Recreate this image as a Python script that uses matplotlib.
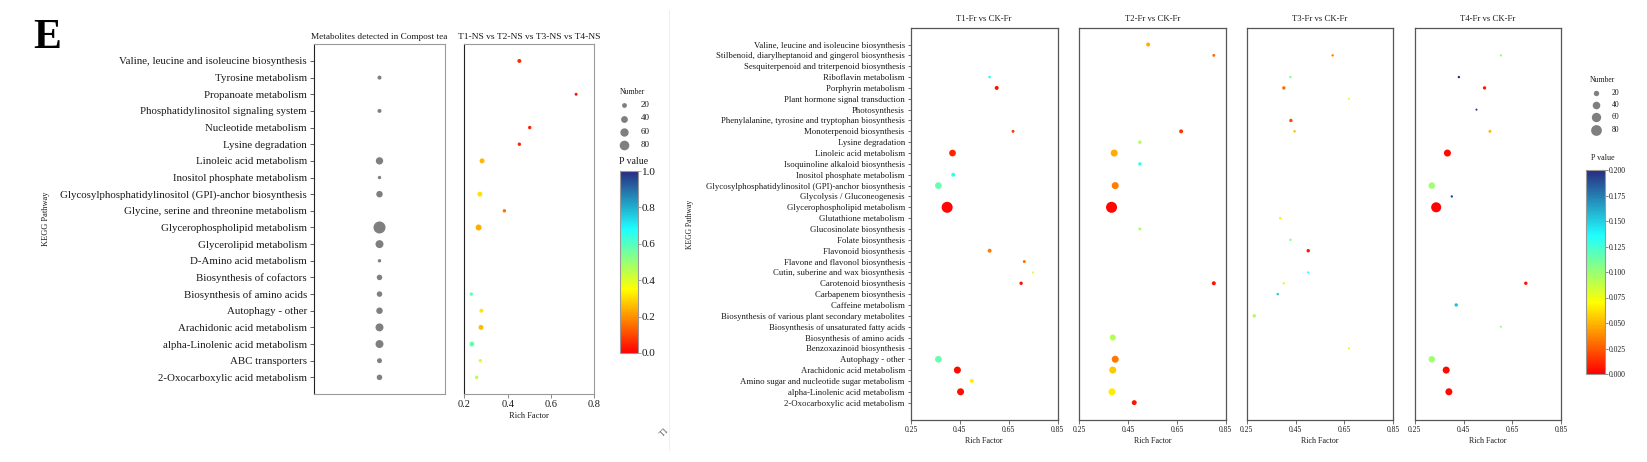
import numpy as np
import matplotlib.pyplot as plt
from matplotlib.colors import LinearSegmentedColormap, Normalize
from matplotlib.cm import ScalarMappable
from matplotlib.lines import Line2D

plt.rcParams['font.family'] = ['Liberation Serif', 'DejaVu Serif']

nan = np.nan

# ---------------- left figure: compost tea ----------------
left_paths = ["Valine, leucine and isoleucine biosynthesis", "Tyrosine metabolism",
              "Propanoate metabolism", "Phosphatidylinositol signaling system",
              "Nucleotide metabolism", "Lysine degradation", "Linoleic acid metabolism",
              "Inositol phosphate metabolism",
              "Glycosylphosphatidylinositol (GPI)-anchor biosynthesis",
              "Glycine, serine and threonine metabolism", "Glycerophospholipid metabolism",
              "Glycerolipid metabolism", "D-Amino acid metabolism", "Biosynthesis of cofactors",
              "Biosynthesis of amino acids", "Autophagy - other", "Arachidonic acid metabolism",
              "alpha-Linolenic acid metabolism", "ABC transporters",
              "2-Oxocarboxylic acid metabolism"]
compost_num = [nan, 11, nan, 11, nan, nan, 37, 8, 29, nan, 100, 44, 8, 21, 21, 29, 44, 44, 17, 21]

ns_rich = [0.454, nan, 0.716, nan, 0.502, 0.454, 0.282, nan, 0.272, 0.385,
           0.266, nan, nan, nan, 0.232, 0.279, 0.277, 0.235, 0.274, 0.257]
ns_p = [0.06, nan, 0.02, nan, 0.04, 0.05, 0.25, nan, 0.31, 0.16,
        0.24, nan, nan, nan, 0.58, 0.32, 0.26, 0.58, 0.40, 0.46]
ns_num = [11, nan, 6, nan, 8, 8, 17, nan, 17, 8,
          25, nan, nan, nan, 8, 11, 17, 17, 8, 8]

left_xticks = [0.2, 0.4, 0.6, 0.8]
left_cb_ticks = [0.0, 0.2, 0.4, 0.6, 0.8, 1.0]
legend_nums = [20, 40, 60, 80]

# ---------------- right figure: fruit ----------------
right_paths = ["Valine, leucine and isoleucine biosynthesis",
               "Stilbenoid, diarylheptanoid and gingerol biosynthesis",
               "Sesquiterpenoid and triterpenoid biosynthesis", "Riboflavin metabolism",
               "Porphyrin metabolism", "Plant hormone signal transduction", "Photosynthesis",
               "Phenylalanine, tyrosine and tryptophan biosynthesis", "Monoterpenoid biosynthesis",
               "Lysine degradation", "Linoleic acid metabolism",
               "Isoquinoline alkaloid biosynthesis", "Inositol phosphate metabolism",
               "Glycosylphosphatidylinositol (GPI)-anchor biosynthesis",
               "Glycolysis / Gluconeogenesis", "Glycerophospholipid metabolism",
               "Glutathione metabolism", "Glucosinolate biosynthesis", "Folate biosynthesis",
               "Flavonoid biosynthesis", "Flavone and flavonol biosynthesis",
               "Cutin, suberine and wax biosynthesis", "Carotenoid biosynthesis",
               "Carbapenem biosynthesis", "Caffeine metabolism",
               "Biosynthesis of various plant secondary metabolites",
               "Biosynthesis of unsaturated fatty acids", "Biosynthesis of amino acids",
               "Benzoxazinoid biosynthesis", "Autophagy - other", "Arachidonic acid metabolism",
               "Amino sugar and nucleotide sugar metabolism", "alpha-Linolenic acid metabolism",
               "2-Oxocarboxylic acid metabolism"]

t1_paths = ["Riboflavin metabolism", "Porphyrin metabolism", "Monoterpenoid biosynthesis",
            "Linoleic acid metabolism", "Inositol phosphate metabolism",
            "Glycosylphosphatidylinositol (GPI)-anchor biosynthesis",
            "Glycerophospholipid metabolism", "Flavonoid biosynthesis",
            "Flavone and flavonol biosynthesis", "Cutin, suberine and wax biosynthesis",
            "Carotenoid biosynthesis", "Autophagy - other", "Arachidonic acid metabolism",
            "Amino sugar and nucleotide sugar metabolism", "alpha-Linolenic acid metabolism"]
t1_rich = [0.572, 0.601, 0.668, 0.420, 0.423, 0.362, 0.398, 0.572, 0.714, 0.750,
           0.701, 0.362, 0.440, 0.499, 0.453]
t1_p = [0.132, 0.005, 0.015, 0.010, 0.132, 0.115, 0.002, 0.035, 0.030, 0.082,
        0.005, 0.115, 0.003, 0.066, 0.004]
t1_num = [5, 11, 6, 31, 11, 31, 84, 11, 6, 3, 8, 31, 34, 11, 34]

t2_paths = ["Valine, leucine and isoleucine biosynthesis",
            "Stilbenoid, diarylheptanoid and gingerol biosynthesis",
            "Monoterpenoid biosynthesis", "Lysine degradation", "Linoleic acid metabolism",
            "Isoquinoline alkaloid biosynthesis",
            "Glycosylphosphatidylinositol (GPI)-anchor biosynthesis",
            "Glycerophospholipid metabolism", "Glucosinolate biosynthesis",
            "Carotenoid biosynthesis", "Biosynthesis of amino acids", "Autophagy - other",
            "Arachidonic acid metabolism", "alpha-Linolenic acid metabolism",
            "2-Oxocarboxylic acid metabolism"]
t2_rich = [0.532, 0.801, 0.667, 0.498, 0.393, 0.498, 0.397, 0.382, 0.498, 0.801,
           0.387, 0.397, 0.387, 0.384, 0.475]
t2_p = [0.048, 0.030, 0.015, 0.095, 0.048, 0.132, 0.035, 0.002, 0.095, 0.005,
        0.092, 0.033, 0.055, 0.065, 0.006]
t2_num = [11, 6, 11, 8, 34, 8, 34, 84, 6, 11, 25, 34, 34, 34, 17]

t3_paths = ["Stilbenoid, diarylheptanoid and gingerol biosynthesis", "Riboflavin metabolism",
            "Porphyrin metabolism", "Plant hormone signal transduction",
            "Phenylalanine, tyrosine and tryptophan biosynthesis", "Monoterpenoid biosynthesis",
            "Glutathione metabolism", "Folate biosynthesis", "Flavonoid biosynthesis",
            "Cutin, suberine and wax biosynthesis", "Carotenoid biosynthesis",
            "Carbapenem biosynthesis", "Biosynthesis of various plant secondary metabolites",
            "Benzoxazinoid biosynthesis"]
t3_rich = [0.602, 0.429, 0.402, 0.669, 0.431, 0.446, 0.387, 0.429, 0.502, 0.502,
           0.402, 0.377, 0.281, 0.669]
t3_p = [0.035, 0.105, 0.030, 0.080, 0.020, 0.050, 0.065, 0.105, 0.005, 0.135,
        0.080, 0.155, 0.095, 0.078]
t3_num = [4, 4, 8, 3, 8, 4, 4, 4, 8, 3, 4, 4, 8, 3]

t4_paths = ["Stilbenoid, diarylheptanoid and gingerol biosynthesis", "Riboflavin metabolism",
            "Porphyrin metabolism", "Photosynthesis", "Monoterpenoid biosynthesis",
            "Linoleic acid metabolism",
            "Glycosylphosphatidylinositol (GPI)-anchor biosynthesis",
            "Glycolysis / Gluconeogenesis", "Glycerophospholipid metabolism",
            "Carotenoid biosynthesis", "Caffeine metabolism",
            "Biosynthesis of unsaturated fatty acids", "Autophagy - other",
            "Arachidonic acid metabolism", "alpha-Linolenic acid metabolism"]
t4_rich = [0.603, 0.431, 0.536, 0.503, 0.558, 0.384, 0.320, 0.402, 0.338, 0.705,
           0.420, 0.603, 0.320, 0.379, 0.390]
t4_p = [0.100, 0.200, 0.008, 0.195, 0.050, 0.003, 0.098, 0.190, 0.002, 0.005,
        0.155, 0.105, 0.098, 0.003, 0.003]
t4_num = [4, 4, 8, 3, 6, 34, 29, 4, 70, 8, 8, 3, 29, 34, 34]

right_titles = ["T1-Fr vs CK-Fr", "T2-Fr vs CK-Fr", "T3-Fr vs CK-Fr", "T4-Fr vs CK-Fr"]
right_xticks = [0.25, 0.45, 0.65, 0.85]
right_cb_ticks = [0.0, 0.025, 0.05, 0.075, 0.1, 0.125, 0.15, 0.175, 0.2]

# ---------------- drawing ----------------
W, H = 1647, 462
fig = plt.figure(figsize=(W / 100, H / 100), dpi=100)
TXT = '#1a1a1a'

cmap = LinearSegmentedColormap.from_list(
    'pv', [(0, '#FF0000'), (0.35, '#FFFF00'), (0.68, '#1EFFFF'), (1, '#292B80')])


def px_axes(x0, y0, x1, y1):
    return fig.add_axes([x0 / W, 1 - y1 / H, (x1 - x0) / W, (y1 - y0) / H])


def ftext(x, y, s, **kw):
    kw.setdefault('color', TXT)
    fig.text(x / W, 1 - y / H, s, **kw)


def size(n):
    return 0.75 * np.asarray(n, dtype=float)


# faint divider between the two sub-figures
fig.add_artist(Line2D([669 / W, 669 / W], [1 - 450 / H, 1 - 10 / H],
                      transform=fig.transFigure, color='#f0f0f0', lw=0.8))
ftext(33, 48, 'E', fontsize=30, fontweight='bold', va='baseline', ha='left', color='black')
ftext(665, 432, 'T1', fontsize=6, rotation=45, ha='center', va='center', color='#555555')

# left panel 1 : grey dots
nl = len(left_paths)
rows_l = np.arange(nl)
ax1 = px_axes(314, 44.3, 445, 394)
ax1.scatter(np.zeros(nl), rows_l, s=size(compost_num), c='#7f7f7f', linewidths=0)
ax1.set_xlim(-1, 1)
ax1.set_ylim(nl, -1)
ax1.set_xticks([])
ax1.set_yticks(rows_l)
ax1.set_yticklabels(left_paths, fontsize=7.8, color=TXT)
ax1.tick_params(axis='y', length=3, width=0.6, color='#444444', pad=2)
for k, sp in ax1.spines.items():
    sp.set_color('#222222' if k == 'left' else '#9a9a9a')
    sp.set_linewidth(0.8)
ftext(379.5, 37, 'Metabolites detected in Compost tea', fontsize=6.7, ha='center', va='center')
ftext(46, 219, 'KEGG Pathway', fontsize=6, rotation=90, ha='center', va='center')

# left panel 2 : enrichment
norm_l = Normalize(0, 1)
ax2 = px_axes(464.3, 44.3, 594.3, 394)
ax2.scatter(ns_rich, rows_l, s=size(ns_num), c=ns_p, cmap=cmap, norm=norm_l, linewidths=0)
ax2.set_xlim(0.2, 0.8)
ax2.set_ylim(nl, -1)
ax2.set_yticks([])
ax2.set_xticks(left_xticks)
ax2.set_xticklabels([f'{v:.1f}' for v in left_xticks], fontsize=7.5, color=TXT)
ax2.tick_params(axis='x', length=3, width=0.6, color='#777777', pad=1.5)
for k, sp in ax2.spines.items():
    sp.set_color('#222222' if k == 'left' else '#9a9a9a')
    sp.set_linewidth(0.8)
ftext(529, 37, 'T1-NS vs T2-NS vs T3-NS vs T4-NS', fontsize=6.8, ha='center', va='center')
ftext(529, 416, 'Rich Factor', fontsize=6, ha='center', va='center')

# left legends
ov = fig.add_axes([0, 0, 1, 1], zorder=-1)
ov.set_xlim(0, W)
ov.set_ylim(H, 0)
ov.axis('off')
ftext(620, 92, 'Number', fontsize=5.5, ha='left', va='center')
for i, n in enumerate(legend_nums):
    ov.scatter([624.3], [105.3 + 13.2 * i], s=size([n]) * 0.8, c='#7f7f7f', linewidths=0)
    ftext(641, 105.3 + 13.2 * i, str(n), fontsize=6.5, ha='left', va='center')
ftext(619, 161.5, 'P value', fontsize=7, ha='left', va='center')
cax_l = px_axes(620, 171, 637.7, 353)
cb_l = fig.colorbar(ScalarMappable(norm=norm_l, cmap=cmap), cax=cax_l, ticks=left_cb_ticks)
cb_l.set_ticklabels([f'{v:.1f}' for v in left_cb_ticks])
cb_l.outline.set_edgecolor('#999999')
cb_l.outline.set_linewidth(0.8)
cb_l.ax.tick_params(labelsize=8, length=2, width=0.6, color='#999999', pad=1, labelcolor=TXT)

# right panels
nr = len(right_paths)
norm_r = Normalize(0, 0.2)
panels = [(t1_paths, t1_rich, t1_p, t1_num), (t2_paths, t2_rich, t2_p, t2_num),
          (t3_paths, t3_rich, t3_p, t3_num), (t4_paths, t4_rich, t4_p, t4_num)]
lefts = [911, 1079.3, 1246.7, 1414.7]
for j, (paths, rich, pv, num) in enumerate(panels):
    ax = px_axes(lefts[j], 27.7, lefts[j] + 146.5, 420)
    rows = [right_paths.index(p) for p in paths]
    ax.scatter(rich, rows, s=size(num), c=pv, cmap=cmap, norm=norm_r, linewidths=0)
    ax.set_xlim(0.25, 0.85)
    ax.set_ylim(nr - 1 + 1.6, -1.55)
    ax.set_xticks(right_xticks)
    ax.set_xticklabels([f'{v:.2f}' for v in right_xticks], fontsize=5.5, color=TXT)
    ax.tick_params(axis='x', length=3, width=0.6, color='#555555', pad=1.5)
    if j == 0:
        ax.set_yticks(range(nr))
        ax.set_yticklabels(right_paths, fontsize=6.3, color=TXT)
        ax.tick_params(axis='y', length=2.5, width=0.6, color='#555555', pad=2)
    else:
        ax.set_yticks([])
    for sp in ax.spines.values():
        sp.set_color('#555555')
        sp.set_linewidth(0.9)
    cx = lefts[j] + 73
    ftext(cx, 19.3, right_titles[j], fontsize=6.3, ha='center', va='center')
    ftext(cx, 440.7, 'Rich Factor', fontsize=5.8, ha='center', va='center')
ftext(690, 224, 'KEGG Pathway', fontsize=5.5, rotation=90, ha='center', va='center')

# right legends
ftext(1590, 80, 'Number', fontsize=5.5, ha='left', va='center')
for i, n in enumerate(legend_nums):
    ov.scatter([1596], [92.7 + 12.35 * i], s=size([n]), c='#7f7f7f', linewidths=0)
    ftext(1612, 92.7 + 12.35 * i, str(n), fontsize=5.5, ha='left', va='center')
ftext(1591, 158, 'P value', fontsize=5.8, ha='left', va='center')
cax_r = px_axes(1586, 170, 1605, 374)
cb_r = fig.colorbar(ScalarMappable(norm=norm_r, cmap=cmap), cax=cax_r, ticks=right_cb_ticks)
cb_r.set_ticklabels([f'{v:.3f}' for v in right_cb_ticks])
cb_r.outline.set_edgecolor('#999999')
cb_r.outline.set_linewidth(0.8)
cb_r.ax.tick_params(labelsize=5.5, length=2, width=0.6, color='#777777', pad=1, labelcolor=TXT)

fig.savefig('out.png', dpi=100)
